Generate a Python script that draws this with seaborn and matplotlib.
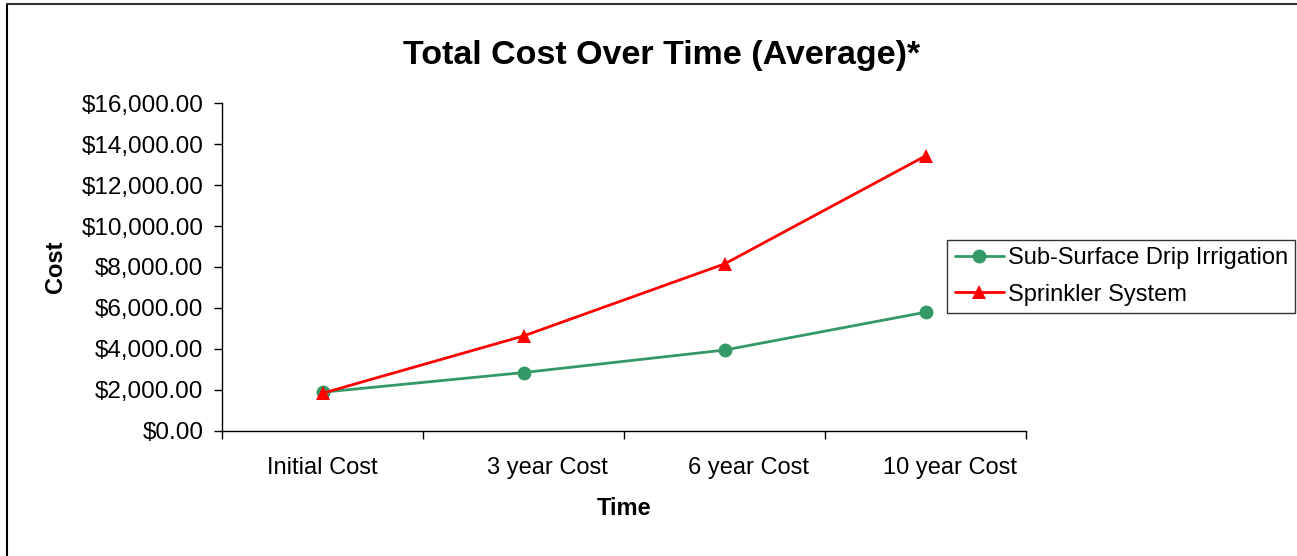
import matplotlib
matplotlib.use("Agg")
import matplotlib.pyplot as plt
import matplotlib.transforms as mtransforms
import numpy as np
import pandas as pd
import seaborn as sns
from matplotlib.lines import Line2D
from matplotlib.ticker import FuncFormatter, FixedLocator

categories = ["Initial Cost", "3 year Cost", "6 year Cost", "10 year Cost"]
drip_cost = [1880, 2840, 3940, 5790]
sprinkler_cost = [1830, 4630, 8150, 13430]
series_names = ["Sub-Surface Drip Irrigation", "Sprinkler System"]
y_ticks = [0, 2000, 4000, 6000, 8000, 10000, 12000, 14000, 16000]

sns.set_theme(style="white")
plt.rcParams["font.family"] = ["Liberation Sans", "DejaVu Sans"]
plt.rcParams["text.color"] = "black"
plt.rcParams["axes.labelcolor"] = "black"
plt.rcParams["xtick.color"] = "black"
plt.rcParams["ytick.color"] = "black"

df = pd.DataFrame({
	"Time": list(range(len(categories))) * 2,
	"Cost": drip_cost + sprinkler_cost,
	"Series": [series_names[0]] * len(categories) + [series_names[1]] * len(categories),
})

palette = {series_names[0]: "#339966", series_names[1]: "#ff0000"}
markers = {series_names[0]: "o", series_names[1]: "^"}

fig = plt.figure(figsize=(12.97, 5.56), dpi=100)
ax = fig.add_axes([0.1712, 0.2254, 0.6199, 0.5888])

sns.lineplot(
	data=df, x="Time", y="Cost", hue="Series", style="Series",
	palette=palette, markers=markers, dashes=False, linewidth=2,
	markersize=10, markeredgewidth=0, ax=ax, legend=False,
)

ax.set_xlim(-0.5, len(categories) - 0.5)
ax.set_ylim(0, 16000)
ax.set_yticks(y_ticks)
ax.yaxis.set_major_formatter(FuncFormatter(lambda v, p: f"${v:,.2f}"))
ax.set_xticks(range(len(categories)))
ax.set_xticklabels(categories)
ax.xaxis.set_minor_locator(FixedLocator(np.arange(-0.5, len(categories), 1.0)))
ax.tick_params(axis="x", which="major", length=0, pad=19, labelsize=17, colors="black")
ax.tick_params(axis="x", which="minor", length=6, width=1, direction="out", color="black", bottom=True)
ax.tick_params(axis="y", length=6, width=1, direction="out", color="black", left=True, labelsize=17.5, pad=7.5)
for s in ["top", "right"]:
	ax.spines[s].set_visible(False)
for s in ["left", "bottom"]:
	ax.spines[s].set_color("black")
	ax.spines[s].set_linewidth(1)

# later category labels sit a little right of their points, as in the source
shift = mtransforms.ScaledTranslation(24 / 100, 0, fig.dpi_scale_trans)
for lbl in ax.get_xticklabels()[1:]:
	lbl.set_transform(lbl.get_transform() + shift)

ax.set_xlabel("Time", fontsize=17, fontweight="bold", labelpad=13)
ax.set_ylabel("Cost", fontsize=17, fontweight="bold", labelpad=10)
fig.text(0.5104, 0.901, "Total Cost Over Time (Average)*", ha="center", va="center",
	fontsize=24.5, fontweight="bold")

handles = [
	Line2D([], [], color=palette[n], marker=markers[n], linewidth=2, markersize=10, markeredgewidth=0)
	for n in series_names
]
leg = fig.legend(handles, series_names, loc="upper left", bbox_to_anchor=(0.7305, 1 - 240 / 556),
	fontsize=17, frameon=True, fancybox=False, handlelength=2.1, borderpad=0.3,
	labelspacing=0.62, handletextpad=0.15, borderaxespad=0)
leg.get_frame().set_edgecolor("black")
leg.get_frame().set_linewidth(1)

fig.add_artist(Line2D([7 / 1297, 7 / 1297], [0, 1 - 4 / 556], transform=fig.transFigure, color="black", linewidth=1.5))
fig.add_artist(Line2D([7 / 1297, 1], [1 - 4 / 556, 1 - 4 / 556], transform=fig.transFigure, color="#333333", linewidth=1.5))

fig.savefig("out.png", dpi=100)
plt.close(fig)
